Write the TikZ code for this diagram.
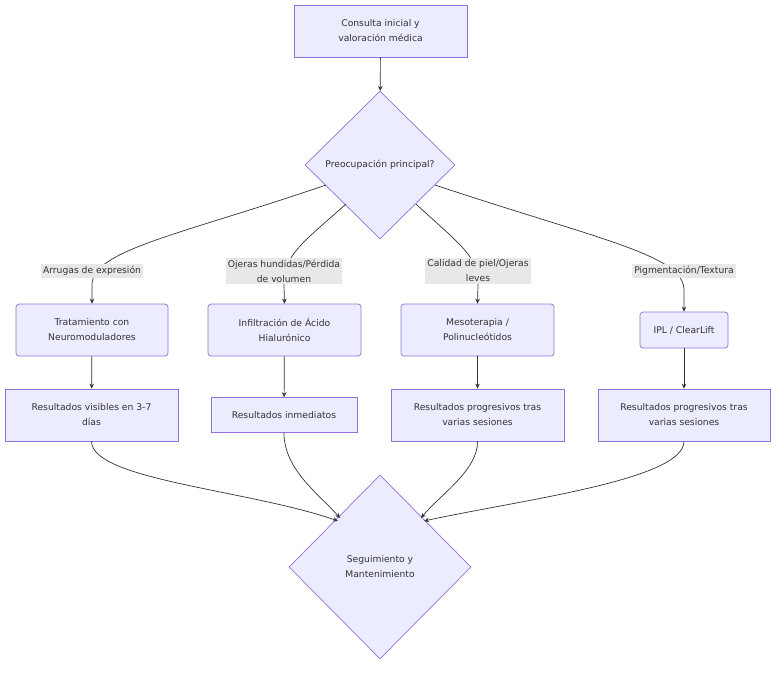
\documentclass[tikz,border=0pt]{standalone}
\usepackage{fontspec}
\setmainfont{DejaVu Sans}
\usetikzlibrary{shapes.geometric,arrows.meta}
\definecolor{nf}{HTML}{ECECFF}
\definecolor{ns}{HTML}{9370DB}
\definecolor{ln}{HTML}{333333}
\definecolor{lb}{HTML}{E8E8E8}
\begin{document}
\begin{tikzpicture}[x=1pt,y=-1pt,
  every node/.style={font=\fontsize{9.2}{15}\selectfont,align=center,text=ln},
  box/.style={draw=ns,fill=nf,line width=0.7pt,inner sep=0pt},
  rbox/.style={box,rounded corners=3pt},
  lab/.style={fill=lb,inner sep=2pt},
  ar/.style={draw=ln,line width=0.7pt,-{Stealth[length=5pt,width=4.5pt]}}]
\useasboundingbox (0,0) rectangle (784,673);
\node[box,minimum width=173pt,minimum height=52pt] (a) at (380.5,31) {Consulta inicial y\\valoración médica};
\node[box,diamond,minimum width=150pt,minimum height=148pt,inner sep=0pt] (d) at (380,165) {Preocupación principal?};
\node[rbox,minimum width=152pt,minimum height=52pt] (t1) at (92,330) {Tratamiento con\\Neuromoduladores};
\node[rbox,minimum width=153pt,minimum height=52pt] (t2) at (284.5,330) {Infiltración de Ácido\\Hialurónico};
\node[rbox,minimum width=153pt,minimum height=52pt] (t3) at (477.5,330) {Mesoterapia /\\Polinucleótidos};
\node[rbox,minimum width=88pt,minimum height=36pt] (t4) at (684,330) {IPL / ClearLift};
\node[box,minimum width=173pt,minimum height=52pt] (r1) at (91.5,415) {Resultados visibles en 3-7\\días};
\node[box,minimum width=146pt,minimum height=35pt] (r2) at (284,415) {Resultados inmediatos};
\node[box,minimum width=173pt,minimum height=52pt] (r3) at (477.5,415) {Resultados progresivos tras\\varias sesiones};
\node[box,minimum width=172pt,minimum height=52pt] (r4) at (684,415) {Resultados progresivos tras\\varias sesiones};
\node[box,diamond,minimum width=182pt,minimum height=184pt,inner sep=0pt] (e) at (380,567) {Seguimiento y\\Mantenimiento};
\coordinate (dl) at (326,185);
\coordinate (dl2) at (346,204);
\coordinate (dr2) at (416,204);
\coordinate (dr) at (435,185);
\draw[ar] (a) -- (d);
\draw[ar] (dl) .. controls (180,235) and (92,250) .. (92,285) -- (t1.north);
\draw[ar] (dl2) .. controls (300,245) and (284,255) .. (284,285) -- (t2.north);
\draw[ar] (dr2) .. controls (460,245) and (478,255) .. (478,285) -- (t3.north);
\draw[ar] (dr) .. controls (600,240) and (684,255) .. (684,290) -- (t4.north);
\node[lab] (l1) at (92,271) {Arrugas de expresión};
\node[lab] (l2) at (284,271) {Ojeras hundidas/Pérdida\\de volumen};
\node[lab] (l3) at (478,271) {Calidad de piel/Ojeras\\leves};
\node[lab] (l4) at (684,271) {Pigmentación/Textura};
\foreach \i in {1,2,3,4}{\draw[ar] (t\i) -- (r\i);}
\draw[ar] (r1.south) .. controls (92,480) and (250,490) .. (338,521);
\draw[ar] (r2.south) .. controls (284,470) and (320,495) .. (340,518);
\draw[ar] (r3.south) .. controls (478,470) and (440,495) .. (421,518);
\draw[ar] (r4.south) .. controls (684,480) and (520,500) .. (424,521);
\end{tikzpicture}
\end{document}
